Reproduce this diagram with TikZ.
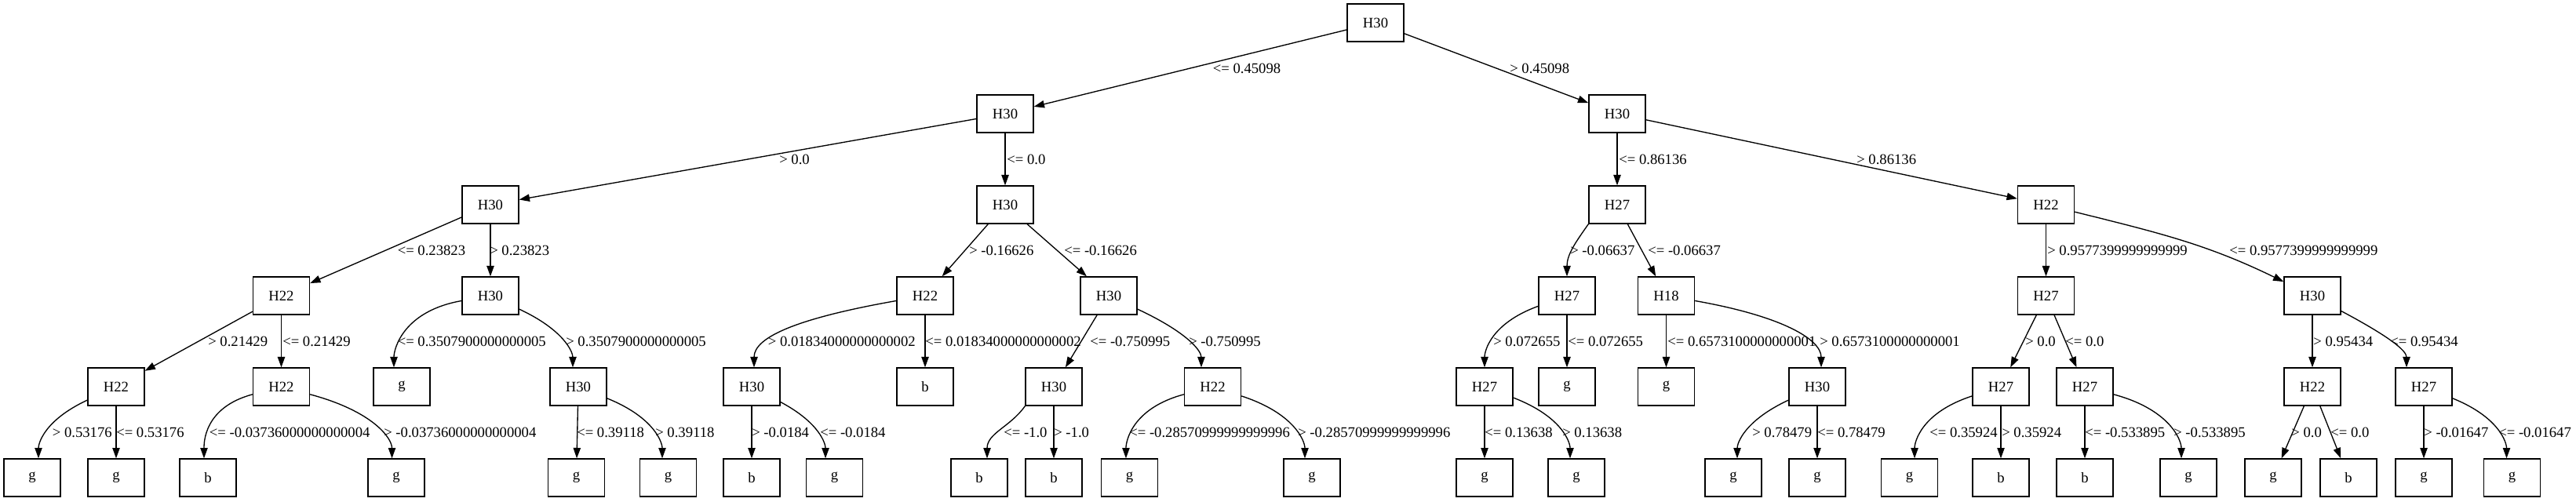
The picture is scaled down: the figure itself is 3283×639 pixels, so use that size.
\documentclass[tikz,border=0pt]{standalone}
\usepackage{fontspec}
\setmainfont{Liberation Serif}
\usetikzlibrary{arrows.meta}

\tikzset{
  box/.style = {draw, line width=1pt, minimum width=54pt, minimum height=36pt, inner sep=2pt, font=\fontsize{14}{16}\selectfont},
  edge/.style = {line width=1pt, -{Triangle[length=10pt, width=7pt]}},
  curve/.style = {out looseness=1.6, in looseness=0.5},
  lab/.style = {anchor=west, inner sep=0pt, font=\fontsize{14}{16}\selectfont}
}

\begin{document}
\begin{tikzpicture}[x=0.75pt, y=0.75pt]
\useasboundingbox (0,0) rectangle (3283,639);

% splits
\node[box] (top) at (1753,610) {H30};
\node[box] (A) at (1281,494) {H30};
\node[box] (N) at (2061,494) {H30};
\node[box] (B) at (625,378) {H30};
\node[box] (H) at (1281,378) {H30};
\node[box] (O) at (2061,378) {H27};
\node[box] (T) at (2607.5,378) {H22};
\node[box] (C) at (358.5,262) {H22};
\node[box] (F) at (625,262) {H30};
\node[box] (I) at (1179,262) {H22};
\node[box] (K) at (1413,262) {H30};
\node[box] (P) at (1997,262) {H27};
\node[box] (R) at (2123.5,262) {H18};
\node[box] (U) at (2607.5,262) {H27};
\node[box] (X) at (2947,262) {H30};
\node[box] (D) at (148,146) {H22};
\node[box] (E) at (358.5,146) {H22};
\node[box] (G) at (737,146) {H30};
\node[box] (J) at (958,146) {H30};
\node[box] (L) at (1343,146) {H30};
\node[box] (M) at (1545.5,146) {H22};
\node[box] (Q) at (1892,146) {H27};
\node[box] (S) at (2316,146) {H30};
\node[box] (V) at (2550,146) {H27};
\node[box] (W) at (2657,146) {H27};
\node[box] (Y) at (2947,146) {H22};
\node[box] (Z) at (3089,146) {H27};

% leaves
\node[box] (gF) at (512,146) {g};
\node[box] (bI) at (1179,146) {b};
\node[box] (gP) at (1997,146) {g};
\node[box] (gR) at (2123.5,146) {g};
\node[box] (l1) at (41,30) {g};
\node[box] (l2) at (148,30) {g};
\node[box] (l3) at (265,30) {b};
\node[box] (l4) at (505,30) {g};
\node[box] (l5) at (734.5,30) {g};
\node[box] (l6) at (851.6,30) {g};
\node[box] (l7) at (958,30) {b};
\node[box] (l8) at (1063.5,30) {g};
\node[box] (l9) at (1248,30) {b};
\node[box] (l10) at (1343,30) {b};
\node[box] (l11) at (1439.5,30) {g};
\node[box] (l12) at (1672,30) {g};
\node[box] (l13) at (1892,30) {g};
\node[box] (l14) at (2009,30) {g};
\node[box] (l15) at (2209,30) {g};
\node[box] (l16) at (2316,30) {g};
\node[box] (l17) at (2433.5,30) {g};
\node[box] (l18) at (2550,30) {b};
\node[box] (l19) at (2657,30) {b};
\node[box] (l20) at (2789,30) {g};
\node[box] (l21) at (2897,30) {g};
\node[box] (l22) at (2993,30) {b};
\node[box] (l23) at (3089,30) {g};
\node[box] (l24) at (3201.5,30) {g};

% edges
\draw[edge] (top) -- (A);
\draw[edge] (top) -- (N);
\draw[edge] (A) -- (B);
\draw[edge] (A) -- (H);
\draw[edge] (N) -- (O);
\draw[edge] (N) -- (T);
\draw[edge] (B) -- (C);
\draw[edge] (B) -- (F);
\draw[edge] (H) -- (I);
\draw[edge] (H) -- (K);
\draw[edge] (O.south west) to[out=235, in=90] (P);
\draw[edge] (O) -- (R);
\draw[edge] (T) -- (U);
\draw[edge] (T) to[out=-14, in=154] (X);
\draw[edge] (C) -- (D);
\draw[edge] (C) -- (E);
\draw[edge] (F) to[curve, out=190, in=90] ([xshift=-7.5pt]gF.north);
\draw[edge] (F) to[curve, out=-25, in=90] ([xshift=-5.25pt]G.north);
\draw[edge] (I) to[curve, out=190, in=90] ([xshift=2.25pt]J.north);
\draw[edge] (I) -- (bI);
\draw[edge] (K) -- (L);
\draw[edge] (K) to[curve, out=-25, in=90] ([xshift=-10.9pt]M.north);
\draw[edge] (P) to[curve, out=200, in=90] (Q.north);
\draw[edge] (P) -- (gP);
\draw[edge] (R) -- (gR);
\draw[edge] (R) to[curve, out=-10, in=90] ([xshift=3.75pt]S.north);
\draw[edge] (U) -- (V);
\draw[edge] (U) -- (W);
\draw[edge] (X) -- (Y);
\draw[edge] (X) to[curve, out=-28, in=90] ([xshift=-16.5pt]Z.north);
\draw[edge] (D) to[curve, out=205, in=90] ([xshift=6pt]l1.north);
\draw[edge] (D) -- (l2);
\draw[edge] (E) to[curve, out=195, in=90] ([xshift=-3.75pt]l3.north);
\draw[edge] (E) to[curve, out=-15, in=90] ([xshift=-4.1pt]l4.north);
\draw[edge] (G) -- (l5);
\draw[edge] (G) to[curve, out=-22, in=90] ([xshift=-5.7pt]l6.north);
\draw[edge] (J) -- (l7);
\draw[edge] (J) to[curve, out=-28, in=90] ([xshift=-8.6pt]l8.north);
\draw[edge] (L.south west) to[out=235, in=90] ([xshift=7.5pt]l9.north);
\draw[edge] (L) -- (l10);
\draw[edge] (M) to[curve, out=195, in=90] ([xshift=-3.4pt]l11.north);
\draw[edge] (M) to[curve, out=-18, in=90] ([xshift=-6.75pt]l12.north);
\draw[edge] (Q) -- (l13);
\draw[edge] (Q) to[curve, out=-21, in=90] ([xshift=-6pt]l14.north);
\draw[edge] (S) to[curve, out=205, in=90] ([xshift=3.75pt]l15.north);
\draw[edge] (S) -- (l16);
\draw[edge] (V) to[curve, out=198, in=90] ([xshift=4.9pt]l17.north);
\draw[edge] (V) -- (l18);
\draw[edge] (W) -- (l19);
\draw[edge] (W) to[curve, out=-15, in=90] ([xshift=-6.75pt]l20.north);
\draw[edge] (Y) -- (l21);
\draw[edge] (Y) -- (l22);
\draw[edge] (Z) -- (l23);
\draw[edge] (Z) to[curve, out=-22, in=90] ([xshift=-5.25pt]l24.north);

% labels
\node[lab] at (1545.5,552) {<= 0.45098};
\node[lab] at (1924,552) {> 0.45098};
\node[lab] at (993,436) {> 0.0};
\node[lab] at (1283,436) {<= 0.0};
\node[lab] at (2063,436) {<= 0.86136};
\node[lab] at (2366,436) {> 0.86136};
\node[lab] at (506.5,320) {<= 0.23823};
\node[lab] at (624,320) {> 0.23823};
\node[lab] at (1235,320) {> -0.16626};
\node[lab] at (1356,320) {<= -0.16626};
\node[lab] at (2001,320) {> -0.06637};
\node[lab] at (2100,320) {<= -0.06637};
\node[lab] at (2609,320) {> 0.9577399999999999};
\node[lab] at (2841,320) {<= 0.9577399999999999};
\node[lab] at (265,204) {> 0.21429};
\node[lab] at (360,204) {<= 0.21429};
\node[lab] at (506.5,204) {<= 0.3507900000000005};
\node[lab] at (721,204) {> 0.3507900000000005};
\node[lab] at (978.6,204) {> 0.01834000000000002};
\node[lab] at (1179,204) {<= 0.01834000000000002};
\node[lab] at (1389,204) {<= -0.750995};
\node[lab] at (1515,204) {> -0.750995};
\node[lab] at (1903,204) {> 0.072655};
\node[lab] at (1998,204) {<= 0.072655};
\node[lab] at (2125,204) {<= 0.6573100000000001};
\node[lab] at (2319,204) {> 0.6573100000000001};
\node[lab] at (2581,204) {> 0.0};
\node[lab] at (2632,204) {<= 0.0};
\node[lab] at (2948,204) {> 0.95434};
\node[lab] at (3046,204) {<= 0.95434};
\node[lab] at (66.6,88) {> 0.53176};
\node[lab] at (148,88) {<= 0.53176};
\node[lab] at (266.6,88) {<= -0.03736000000000004};
\node[lab] at (489,88) {> -0.03736000000000004};
\node[lab] at (735,88) {<= 0.39118};
\node[lab] at (835,88) {> 0.39118};
\node[lab] at (958,88) {> -0.0184};
\node[lab] at (1045,88) {<= -0.0184};
\node[lab] at (1279,88) {<= -1.0};
\node[lab] at (1343,88) {> -1.0};
\node[lab] at (1439,88) {<= -0.28570999999999996};
\node[lab] at (1654,88) {> -0.28570999999999996};
\node[lab] at (1892,88) {<= 0.13638};
\node[lab] at (1991,88) {> 0.13638};
\node[lab] at (2233,88) {> 0.78479};
\node[lab] at (2316,88) {<= 0.78479};
\node[lab] at (2459,88) {<= 0.35924};
\node[lab] at (2551,88) {> 0.35924};
\node[lab] at (2657,88) {<= -0.533895};
\node[lab] at (2770,88) {> -0.533895};
\node[lab] at (2920,88) {> 0.0};
\node[lab] at (2970,88) {<= 0.0};
\node[lab] at (3089,88) {> -0.01647};
\node[lab] at (3184,88) {<= -0.01647};
\end{tikzpicture}
\end{document}
